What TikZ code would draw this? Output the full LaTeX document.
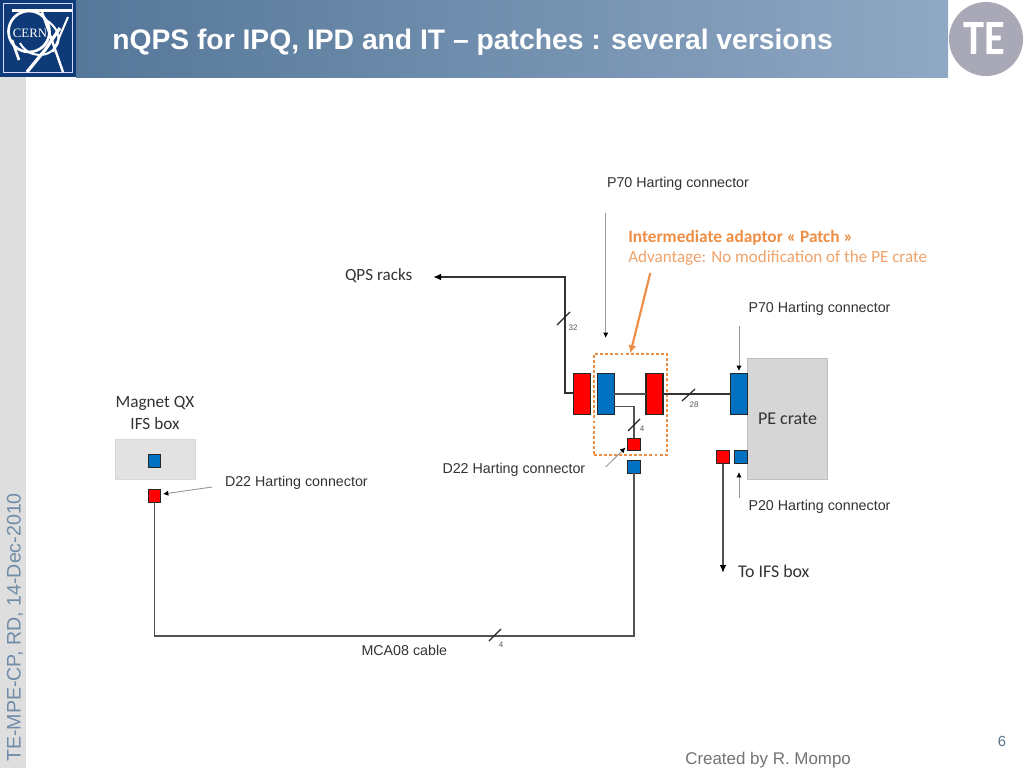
\documentclass[tikz,border=0pt]{standalone}
\usepackage{fontspec}
\setmainfont{Liberation Sans}
\newfontfamily\cali{Carlito}
\newfontfamily\seriff{Liberation Serif}
\usetikzlibrary{arrows.meta}
\definecolor{navy}{HTML}{0F3A78}
\definecolor{conred}{HTML}{FF0000}
\definecolor{conblue}{HTML}{0070C0}
\definecolor{boxgray}{HTML}{D6D6D6}
\definecolor{orangeT}{HTML}{EE8E45}
\definecolor{orangeL}{HTML}{F0A36A}
\definecolor{wire}{HTML}{333333}
\definecolor{sidetext}{HTML}{6F8CA8}
\definecolor{headL}{HTML}{557799}
\definecolor{headR}{HTML}{8FA8C4}
\definecolor{teg}{HTML}{A8A8B6}
\tikzset{
  x=0.75pt,y=-0.75pt,
  con/.style={draw=black!85,line width=0.8pt,minimum width=12.7*0.75pt,minimum height=12.7*0.75pt,inner sep=0,outer sep=0},
  bigcon/.style={draw=black!85,line width=0.8pt,minimum width=17*0.75pt,minimum height=41*0.75pt,inner sep=0,outer sep=0},
  lab/.style={inner sep=0,outer sep=0,anchor=west,yshift=-1.5pt,text=black!80,font=\fontsize{10.7}{13}\selectfont},
  clab/.style={inner sep=0,outer sep=0,yshift=-1pt,text=black!80,font=\cali\fontsize{13}{16}\selectfont},
  wirethick/.style={draw=wire,line width=1.5pt},
  wirethin/.style={draw=wire!85,line width=1.25pt},
  pointer/.style={draw=black!40,line width=0.7pt,-{Latex[black,length=4pt,width=4pt]}},
  slash/.style={draw=black!85,line width=0.9pt},
  count/.style={inner sep=0,outer sep=0,text=black!65,font=\fontsize{6}{7}\selectfont},
}
\begin{document}
\begin{tikzpicture}
\useasboundingbox (0,0) rectangle (1024,768);
\fill[white] (0,0) rectangle (1024,768);
% header and sidebar
\shade[left color=headL,right color=headR] (76,0) rectangle (948,77);
\fill[black!13] (0,77) rectangle (26,768);
% CERN logo
\fill[navy] (0,0) rectangle (76,77);
\draw[blue!15!white,line width=0.9pt] (3.5,3.5) rectangle (72.5,72.5);
\begin{scope}
\clip (4,4) rectangle (72,72);
\draw[white,line width=2pt] (29,31.5) circle (20.5);
\draw[white,line width=1.6pt] (12,10.5) -- (72,10.5);
\draw[white,line width=1.5pt] (20,43) .. controls (28,58) and (50,60) .. (58,43) .. controls (60,35) and (56,26) .. (46,20);
\draw[white,line width=2.4pt] (27,72) -- (45,50) -- (60,28);
\draw[white,line width=1.8pt] (42,12) -- (63,72);
\draw[white,line width=1.5pt] (68,17) -- (53,52);
\draw[white,line width=2pt] (12,40) -- (19,60);
\end{scope}
\node[inner sep=0,fill=navy,text=white,font=\seriff\fontsize{9.6}{11}\selectfont] (cern) at (30,33) {CERN};
% TE logo
\node[circle,fill=teg,minimum size=74*0.75pt,inner sep=0] (telogo) at (986,39) {};
\node[inner sep=0,text=white,font=\cali\bfseries\fontsize{37}{37}\selectfont] (te) at (984,39) {\scalebox{.86}[1]{TE}};
% title
\node[inner sep=0,anchor=west,yshift=-2.2pt,text=white,font=\bfseries\fontsize{21.2}{24}\selectfont] (title) at (112,39) {nQPS for IPQ, IPD and IT – patches : several versions};
% boxes
\node[draw=black!25,fill=boxgray,line width=0.5pt,minimum width=80.4*0.75pt,minimum height=120.7*0.75pt,inner sep=0] (pe) at (787.5,418.6) {};
\node[clab,font=\cali\fontsize{13.5}{16}\selectfont] (pelab) at (787.5,417) {PE crate};
\node[draw=black!15,fill=boxgray!70!white,line width=0.5pt,minimum width=80*0.75pt,minimum height=40*0.75pt,inner sep=0] (ifs) at (155,459) {};
\node[clab,align=center,font=\cali\fontsize{12.9}{16}\selectfont] (ifslab) at (155,411.5) {Magnet QX\\IFS box};
% patch
\node[draw=orangeT,line width=1.2pt,dash pattern=on 2.2pt off 1.6pt,minimum width=73.3*0.75pt,minimum height=101*0.75pt,inner sep=0] (patch) at (630.35,404.5) {};
% connectors
\node[bigcon,fill=conred]  (r1) at (581.8,394) {};
\node[bigcon,fill=conblue] (b1) at (605.8,394) {};
\node[bigcon,fill=conred]  (r2) at (654.5,394) {};
\node[bigcon,fill=conblue] (b2) at (739,394) {};
\node[con,fill=conred]  (sr) at (634.3,444.6) {};
\node[con,fill=conblue] (sb) at (634.3,467) {};
\node[con,fill=conred]  (cr) at (723,457.3) {};
\node[con,fill=conblue] (cb) at (741,457.3) {};
\node[con,fill=conblue] (ib) at (154.5,461.2) {};
\node[con,fill=conred]  (ir) at (154.5,495.8) {};
% labels
\node[lab] (p70a) at (607,182) {P70 Harting connector};
\node[lab] (p70b) at (748.5,307) {P70 Harting connector};
\node[lab] (p20) at (748.5,505) {P20 Harting connector};
\node[lab] (d22a) at (225,481) {D22 Harting connector};
\node[lab] (d22b) at (442.5,468) {D22 Harting connector};
\node[lab] (mca) at (361.5,648) {MCA08 cable};
\node[clab,anchor=west,font=\cali\fontsize{12.8}{16}\selectfont] (qps) at (345,274.5) {QPS racks};
\node[clab,anchor=west,font=\cali\fontsize{13.4}{16}\selectfont] (toifs) at (738,570) {To IFS box};
\node[inner sep=0,anchor=west,yshift=-1pt,text=orangeT,font=\cali\bfseries\fontsize{13}{15}\selectfont] (adv1) at (628,236) {Intermediate adaptor « Patch »};
\node[inner sep=0,anchor=west,yshift=-1pt,text=orangeL,font=\cali\fontsize{12.8}{15}\selectfont] (adv2) at (628,257) {Advantage: No modification of the PE crate};
% wires
\coordinate (qpsend) at (433,277);
\coordinate (ifsend) at (723,573);
\coordinate (bus) at (565,392.7);
\coordinate (tap) at (614.3,406.5);
\coordinate (low) at (154.5,636);
\draw[wirethick,-{Latex[black,length=6pt,width=5pt]}] (r1.west |- bus) -- (bus) |- (qpsend);
\draw[wirethin] (b1.east) -- (r2.west);
\draw[wirethick] (r2.east) -- (b2.west);
\draw[wirethin] (tap) -| (sr.north);
\draw[wirethin] (sb.south) |- (low) -- (ir.south);
\draw[wirethin,-{Latex[black,length=6pt,width=5pt]}] (cr.south) -- (ifsend);
% slashes and counts
\draw[slash] (557,325) -- (570,312);
\node[count] (n32) at (573,328) {32};
\draw[slash] (682,401) -- (695,389);
\node[count] (n28) at (694,405) {28};
\draw[slash] (628,431) -- (640,419);
\node[count] (n4a) at (642,428.5) {4};
\draw[slash] (489,641) -- (501,629);
\node[count] (n4b) at (501,645) {4};
% pointers
\coordinate (pa) at (605.7,213);
\coordinate (pae) at (605.7,338);
\coordinate (pb) at (739,326);
\coordinate (pbe) at (739,371);
\coordinate (pc) at (739,498);
\coordinate (pce) at (739,472);
\coordinate (pd) at (212,487);
\coordinate (pde) at (163,494);
\coordinate (pe2) at (605.7,467);
\coordinate (pe2e) at (625.5,447.5);
\coordinate (po) at (650.3,273);
\draw[pointer] (pa) -- (pae);
\draw[pointer] (pb) -- (pbe);
\draw[pointer] (pc) -- (pce);
\draw[pointer] (pd) -- (pde);
\draw[pointer] (pe2) -- (pe2e);
\draw[draw=orangeT,line width=1.6pt,-{Latex[orangeT,length=6pt,width=6pt]}] (po) -- (patch.north);
% footer
\node[inner sep=0,rotate=90,anchor=west,text=sidetext,font=\fontsize{14.7}{16}\selectfont] (side) at (15,762) {TE-MPE-CP, RD, 14-Dec-2010};
\node[inner sep=0,text=sidetext!80!black,font=\fontsize{11}{13}\selectfont] (page) at (1002,741) {6};
\node[inner sep=0,anchor=west,yshift=-1.5pt,text=black!55,font=\fontsize{12.7}{14}\selectfont] (credit) at (685,758) {Created by R. Mompo};
\end{tikzpicture}
\end{document}
